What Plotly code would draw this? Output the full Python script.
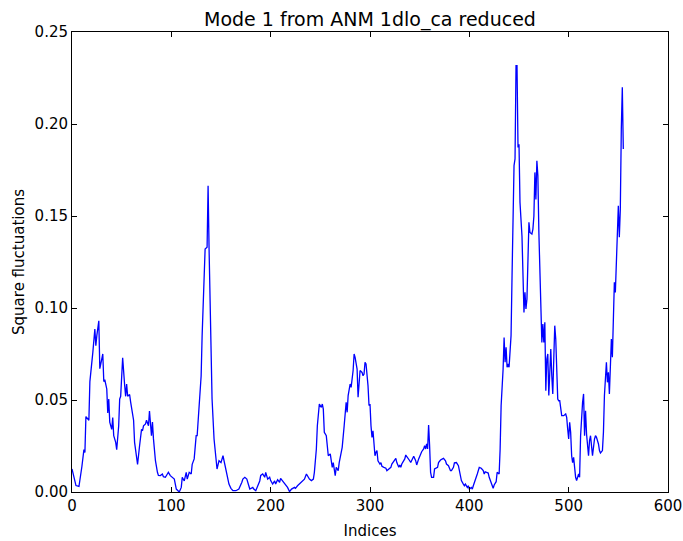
import plotly.graph_objects as go

title_text = "Mode 1 from ANM 1dlo_ca reduced"
x_label = "Indices"
y_label = "Square fluctuations"

indices = [
    0, 2, 4, 7, 8, 10, 12, 13, 14, 16, 17, 18, 20, 21, 23, 24, 25, 27, 28, 30,
    31, 32, 33, 35, 36, 37, 38, 40, 41, 42, 44, 45, 47, 48, 49, 51, 52, 53, 54, 55,
    56, 58, 59, 60, 62, 63, 65, 66, 68, 70, 71, 72, 74, 75, 77, 78, 80, 81, 82, 84,
    86, 87, 89, 91, 92, 94, 96, 97, 99, 101, 103, 105, 108, 110, 111, 113, 115, 116, 118, 120,
    121, 123, 125, 126, 128, 130, 131, 133, 134, 136, 137, 138, 140, 141, 143, 145, 146, 148, 150, 152,
    153, 155, 157, 158, 160, 162, 165, 168, 171, 172, 174, 176, 178, 179, 182, 183, 185, 187, 189, 190,
    192, 194, 195, 197, 199, 200, 202, 204, 205, 207, 209, 210, 212, 214, 215, 217, 219, 221, 224, 225,
    227, 229, 231, 232, 234, 236, 237, 239, 241, 243, 244, 246, 247, 249, 251, 252, 253, 254, 256, 257,
    258, 260, 261, 262, 263, 265, 266, 268, 269, 271, 272, 274, 276, 277, 278, 280, 281, 283, 284, 285,
    287, 288, 289, 290, 292, 293, 294, 295, 296, 298, 299, 300, 301, 302, 303, 304, 305, 306, 307, 308,
    310, 311, 312, 314, 316, 317, 319, 321, 322, 324, 326, 327, 329, 330, 331, 332, 333, 335, 336, 338,
    340, 341, 343, 344, 346, 347, 349, 351, 352, 354, 355, 356, 357, 358, 359, 360, 361, 362, 364, 365,
    367, 368, 369, 371, 373, 374, 376, 377, 379, 381, 382, 384, 385, 387, 389, 390, 392, 394, 395, 396,
    398, 399, 400, 402, 403, 404, 406, 408, 410, 412, 414, 415, 416, 417, 419, 420, 422, 424, 425, 427,
    428, 430, 431, 432, 434, 435, 436, 437, 438, 439, 440, 442, 443, 444, 445, 446, 447, 448, 449, 450,
    451, 453, 454, 455, 456, 457, 458, 459, 460, 461, 463, 464, 465, 466, 467, 468, 469, 470, 471, 472,
    473, 474, 475, 476, 477, 478, 479, 480, 481, 482, 483, 484, 485, 486, 487, 488, 489, 490, 491, 493,
    495, 497, 498, 499, 500, 501, 502, 503, 504, 505, 506, 507, 508, 510, 511, 512, 514, 515, 516, 517,
    518, 519, 520, 521, 522, 523, 524, 526, 527, 528, 530, 531, 532, 534, 535, 536, 538, 539, 540, 541,
    542, 543, 544, 545, 546, 547, 548, 549, 550, 551, 552, 553, 554, 555,
]

fluctuations = [
    0.0125, 0.008, 0.0035, 0.003, 0.006, 0.014, 0.023, 0.0215, 0.041, 0.040, 0.039, 0.060, 0.074, 0.076, 0.0886, 0.0795, 0.085, 0.093, 0.067, 0.074,
    0.075, 0.060, 0.061, 0.056, 0.043, 0.0505, 0.038, 0.034, 0.0405, 0.0306, 0.027, 0.023, 0.036, 0.0505, 0.052, 0.073, 0.063, 0.058, 0.052, 0.0587,
    0.052, 0.053, 0.049, 0.045, 0.039, 0.027, 0.020, 0.015, 0.025, 0.034, 0.0333, 0.036, 0.037, 0.039, 0.036, 0.044, 0.0306, 0.038, 0.029, 0.017,
    0.0107, 0.009, 0.0089, 0.0098, 0.0083, 0.008, 0.0098, 0.0107, 0.0089, 0.008, 0.007, 0.0016, 0.0, 0.0025, 0.008, 0.006, 0.0107, 0.007, 0.0107, 0.0098,
    0.015, 0.018, 0.0306, 0.0306, 0.045, 0.063, 0.085, 0.110, 0.132, 0.133, 0.1665, 0.132, 0.0777, 0.0505, 0.0288, 0.0197, 0.0125, 0.017, 0.016, 0.0197,
    0.017, 0.0107, 0.007, 0.0043, 0.002, 0.0007, 0.0007, 0.0016, 0.0053, 0.007, 0.008, 0.007, 0.0034, 0.0016, 0.0025, 0.0016, 0.0007, 0.0034, 0.006, 0.009,
    0.0098, 0.008, 0.0107, 0.007, 0.008, 0.0062, 0.0043, 0.006, 0.0043, 0.0067, 0.0053, 0.0074, 0.006, 0.0043, 0.0034, 0.0025, 0.0002, 0.0016, 0.0025, 0.002,
    0.0034, 0.0043, 0.0053, 0.0056, 0.007, 0.0098, 0.009, 0.007, 0.0062, 0.007, 0.0107, 0.0234, 0.036, 0.0478, 0.046, 0.0478, 0.045, 0.0324, 0.0306, 0.0252,
    0.0197, 0.0207, 0.016, 0.0134, 0.016, 0.0089, 0.0134, 0.0116, 0.016, 0.0216, 0.0243, 0.036, 0.0487, 0.0433, 0.0524, 0.0587, 0.0569, 0.066, 0.075, 0.0732,
    0.0668, 0.0515, 0.0596, 0.066, 0.065, 0.0632, 0.0641, 0.0705, 0.0696, 0.0578, 0.047, 0.0478, 0.036, 0.0297, 0.0333, 0.023, 0.0197, 0.0216, 0.0225, 0.017,
    0.0152, 0.016, 0.014, 0.0134, 0.0129, 0.0116, 0.0125, 0.0134, 0.0152, 0.017, 0.0183, 0.016, 0.0134, 0.0147, 0.0134, 0.0152, 0.016, 0.018, 0.0201, 0.0188,
    0.017, 0.016, 0.0188, 0.0194, 0.017, 0.0147, 0.018, 0.0212, 0.0219, 0.0234, 0.0252, 0.0234, 0.0261, 0.0234, 0.0364, 0.0252, 0.0107, 0.008, 0.008, 0.0125,
    0.0134, 0.0134, 0.016, 0.0174, 0.018, 0.0183, 0.017, 0.0152, 0.0143, 0.0116, 0.0116, 0.0134, 0.0158, 0.016, 0.0143, 0.0107, 0.0062, 0.0043, 0.0034, 0.0043,
    0.0025, 0.0034, 0.0016, 0.0025, 0.0016, 0.0034, 0.0062, 0.0098, 0.0134, 0.0129, 0.0116, 0.0098, 0.011, 0.0107, 0.0103, 0.008, 0.0053, 0.002, 0.0038, 0.0056,
    0.0107, 0.0098, 0.0234, 0.0469, 0.0668, 0.084, 0.0705, 0.0786, 0.0678, 0.0696, 0.0678, 0.085, 0.1176, 0.150, 0.1774, 0.181, 0.2317, 0.2317, 0.1873, 0.189,
    0.1574, 0.139, 0.112, 0.0976, 0.1085, 0.0995, 0.1049, 0.1248, 0.1466, 0.1411, 0.1402, 0.1429, 0.150, 0.1737, 0.159, 0.180, 0.172, 0.1411, 0.1212, 0.1013,
    0.0813, 0.0913, 0.0813, 0.0922, 0.0551, 0.0723, 0.075, 0.0524, 0.065, 0.0777, 0.0632, 0.0533, 0.0723, 0.0904, 0.0832, 0.0668, 0.0505, 0.0496, 0.0496, 0.0415,
    0.0415, 0.0424, 0.0406, 0.0342, 0.0288, 0.0379, 0.0324, 0.0197, 0.016, 0.0188, 0.0125, 0.008, 0.0062, 0.0098, 0.008, 0.0306, 0.0487, 0.0533, 0.0306, 0.0442,
    0.0315, 0.0261, 0.0197, 0.0279, 0.0306, 0.0252, 0.0197, 0.0288, 0.0306, 0.0297, 0.0261, 0.0225, 0.0212, 0.0225, 0.0324, 0.0524, 0.0705, 0.0596, 0.065, 0.0533,
    0.0705, 0.0832, 0.0732, 0.0922, 0.114, 0.1085, 0.1248, 0.1466, 0.1556, 0.1384, 0.1538, 0.1973, 0.220, 0.1864,
]

x_ticks = [0, 100, 200, 300, 400, 500, 600]
y_ticks = [0.00, 0.05, 0.10, 0.15, 0.20, 0.25]

fig = go.Figure()
fig.add_trace(go.Scatter(
    x=indices, y=fluctuations, mode="lines",
    line=dict(color="#0000ff", width=1.3),
    showlegend=False, hoverinfo="x+y",
))

axis_common = dict(
    showline=True, linecolor="black", linewidth=1, mirror="ticks",
    ticks="inside", ticklen=5, tickcolor="black", tickwidth=1,
    showgrid=False, zeroline=False, automargin=False,
    tickfont=dict(family="DejaVu Sans", size=15, color="black"),
)

fig.update_layout(
    width=683, height=541,
    margin=dict(l=72, r=15, t=32, b=49),
    paper_bgcolor="white", plot_bgcolor="white",
    font=dict(family="DejaVu Sans", color="black"),
    title=dict(text=title_text, x=0.5417, xanchor="center", y=0.964, yanchor="middle",
               font=dict(family="DejaVu Sans", size=19, color="black")),
    xaxis=dict(range=[0, 600], tickvals=x_ticks, ticktext=[str(v) for v in x_ticks],
               title=dict(text=x_label, standoff=11, font=dict(family="DejaVu Sans", size=15, color="black")),
               **axis_common),
    yaxis=dict(range=[0, 0.25], tickvals=y_ticks, ticktext=["%.2f" % v for v in y_ticks],
               title=dict(text=y_label, standoff=6, font=dict(family="DejaVu Sans", size=15, color="black")),
               **axis_common),
)

fig.write_html("out.html")
